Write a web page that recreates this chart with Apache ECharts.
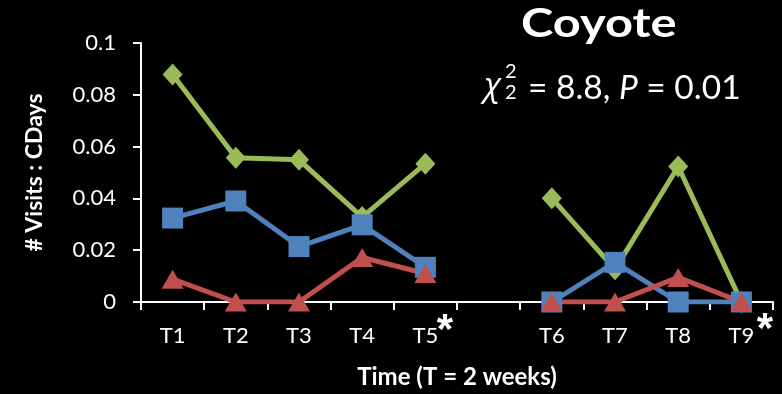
<!DOCTYPE html>
<html>
<head>
<meta charset="utf-8">
<script src="https://cdn.jsdelivr.net/npm/echarts@6/dist/echarts.min.js"></script>
<style>
  html, body { margin: 0; padding: 0; background: #000; }
  #chart { width: 782px; height: 394px; }
</style>
</head>
<body>
<div id="chart"></div>
<script>
// Time periods (two weeks each); the blank slot separates the two sampling runs
const periods = ['T1', 'T2', 'T3', 'T4', 'T5', '', 'T6', 'T7', 'T8', 'T9'];
const yTicks = [0, 0.02, 0.04, 0.06, 0.08, 0.1];

// Visits per camera-day, three groups
const greenSeries = [0.0878, 0.0557, 0.0549, 0.0328, 0.0534, '-', 0.0401, 0.0126, 0.0523, 0];
const blueSeries  = [0.0324, 0.0390, 0.0214, 0.0298, 0.0134, '-', 0, 0.0153, 0, 0];
const redSeries   = [0.0088, 0, 0, 0.0172, 0.0110, '-', 0, 0, 0.0095, 0];

const FONT = 'Lato, "Open Sans", sans-serif';

const chart = echarts.init(document.getElementById('chart'), null, { renderer: 'canvas' });

function lineSeries(name, data, color, symbol, size) {
  return {
    name: name,
    type: 'line',
    data: data,
    connectNulls: false,
    symbol: symbol,
    symbolSize: size,
    lineStyle: { color: color, width: 5 },
    itemStyle: { color: color },
    emphasis: { disabled: true },
    animation: false
  };
}

chart.setOption({
  backgroundColor: '#000000',
  animation: false,
  grid: { left: 141, right: 9, top: 43, bottom: 89, containLabel: false },
  xAxis: {
    type: 'category',
    data: periods,
    boundaryGap: true,
    name: 'Time (T = 2 weeks)',
    nameLocation: 'middle',
    nameGap: 63,
    nameTextStyle: { color: '#fff', fontFamily: FONT, fontWeight: 'bold', fontSize: 24 },
    axisLine: { lineStyle: { color: '#fff', width: 2 } },
    axisTick: { show: true, inside: false, length: 8, alignWithLabel: false, lineStyle: { color: '#fff', width: 2 } },
    axisLabel: { color: '#fff', fontFamily: FONT, fontSize: 22, margin: 23, interval: 0 },
    splitLine: { show: false }
  },
  yAxis: {
    type: 'value',
    min: yTicks[0],
    max: yTicks[yTicks.length - 1],
    interval: yTicks[1] - yTicks[0],
    name: '# Visits : CDays',
    nameLocation: 'middle',
    nameRotate: 90,
    nameGap: 95,
    nameTextStyle: { color: '#fff', fontFamily: FONT, fontWeight: 'bold', fontSize: 23 },
    axisLine: { show: true, lineStyle: { color: '#fff', width: 2 } },
    axisTick: { show: true, inside: false, length: 8, lineStyle: { color: '#fff', width: 2 } },
    axisLabel: {
      color: '#fff', fontFamily: FONT, fontSize: 22, margin: 25,
      formatter: v => String(+v.toFixed(2))
    },
    splitLine: { show: false }
  },
  series: [
    lineSeries('green', greenSeries, '#9BBB59', 'diamond', [20, 22]),
    lineSeries('blue', blueSeries, '#4F81BD', 'rect', 21),
    lineSeries('red', redSeries, '#C0504D', 'triangle', [22, 19])
  ],
  graphic: [
    {
      type: 'text', left: 521, top: 4, scaleX: 1.22,
      style: { text: 'Coyote', fill: '#fff', font: 'bold 40px ' + FONT }
    },
    {
      type: 'text', x: 484, y: 70,
      style: { text: 'χ', fill: '#fff', font: 'italic 33px "Open Sans", sans-serif' }
    },
    {
      type: 'text', x: 505, y: 62,
      style: { text: '2', fill: '#fff', font: '20px ' + FONT }
    },
    {
      type: 'text', x: 505, y: 83,
      style: { text: '2', fill: '#fff', font: '20px ' + FONT }
    },
    {
      type: 'text', x: 528, y: 71,
      style: {
        text: '{n|= 8.8, }{i|P}{n| = 0.01}',
        fill: '#fff',
        rich: {
          n: { fill: '#fff', font: '33.5px ' + FONT },
          i: { fill: '#fff', font: 'italic 33.5px ' + FONT }
        }
      }
    },
    {
      type: 'text', x: 445, y: 331,
      style: { text: '*', fill: '#fff', font: 'bold 42px "Liberation Sans", sans-serif', align: 'center', verticalAlign: 'middle' }
    },
    {
      type: 'text', x: 765, y: 330,
      style: { text: '*', fill: '#fff', font: 'bold 42px "Liberation Sans", sans-serif', align: 'center', verticalAlign: 'middle' }
    }
  ]
});
</script>
</body>
</html>
